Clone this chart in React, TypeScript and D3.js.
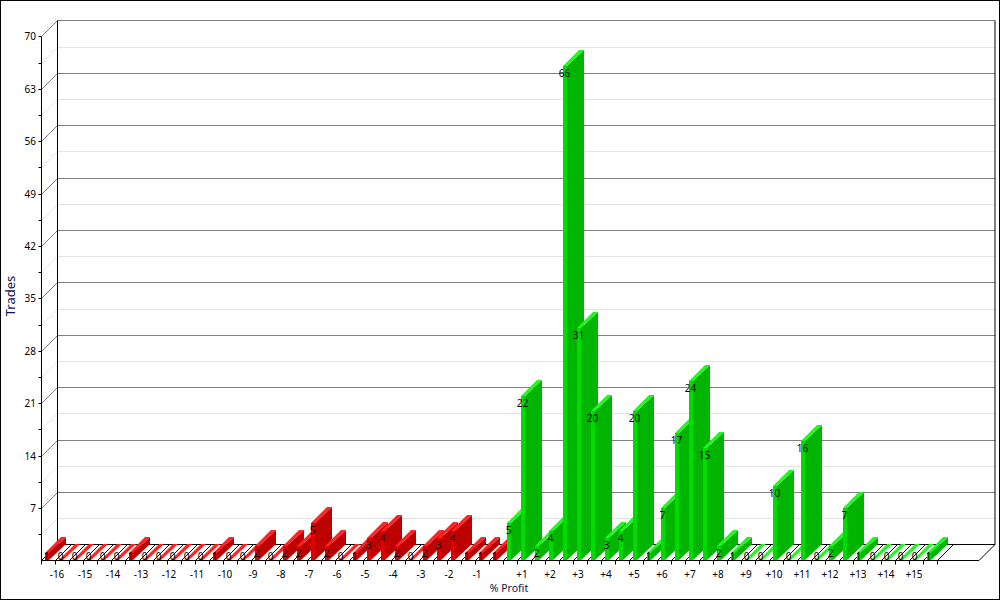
import React from 'react';
import * as d3 from 'd3';

const lossTrades = [1, 0, 0, 0, 0, 0, 1, 0, 0, 0, 0, 0, 1, 0, 0, 2, 0, 2, 2, 5, 2, 0, 1, 3, 4, 2, 0, 2, 3, 4, 1, 1, 1];
const gainTrades = [5, 22, 2, 4, 66, 31, 20, 3, 4, 20, 1, 7, 17, 24, 15, 2, 1, 0, 0, 10, 0, 16, 0, 2, 7, 1, 0, 0, 0, 0, 1];
const lossLabels = ['-16', '-15', '-14', '-13', '-12', '-11', '-10', '-9', '-8', '-7', '-6', '-5', '-4', '-3', '-2', '-1'];
const gainLabels = ['+1', '+2', '+3', '+4', '+5', '+6', '+7', '+8', '+9', '+10', '+11', '+12', '+13', '+14', '+15'];
const yTicks = [7, 14, 21, 28, 35, 42, 49, 56, 63, 70];
const yMinor = [3.5, 10.5, 17.5, 24.5, 31.5, 38.5, 45.5, 52.5, 59.5, 66.5];

const RED = { front: '#e00000', side: '#bd0000', top: '#ff2222' };
const GREEN = { front: '#00dc00', side: '#00b400', top: '#22f522' };

const FONT = '"Noto Sans", sans-serif';
const DEPTH = 16;
const BAR_W = 4;
const TOP_EXTRA = 1; // top and side faces run a pixel past the front face
const SLOTS = 64;
const RIGHT = 979;

const yScale = d3.scaleLinear().domain([0, 70]).range([560, 36]);
// the original snaps every value to a pixel row
const y = (v: number) => Math.ceil(yScale(v));
const row = (v: number) => y(v) + 0.5;
// tick positions along the floor, one slot per bar
const x = d3.scaleLinear().domain([0, SLOTS]).range([41.5, 937.5]);

const line = d3.line();
const poly = (pts: [number, number][]) => line(pts) + 'Z';

const bars = [
  ...lossTrades.map((v) => ({ v, c: RED })),
  ...gainTrades.map((v) => ({ v, c: GREEN })),
];

const Bar = ({ i, v, c }: { i: number; v: number; c: typeof RED }) => {
  const x0 = x(i) + 3.5;
  const x1 = x0 + BAR_W;
  const x2 = x1 + TOP_EXTRA;
  const top = y(v);
  const base = y(0);
  return (
    <g>
      {v > 0 && (
        <path
          d={poly([[x1, base], [x2 + DEPTH, base - DEPTH], [x2 + DEPTH, top - DEPTH], [x1, top]])}
          fill={c.side}
        />
      )}
      {v > 0 && <rect x={x0} y={top} width={BAR_W} height={base - top} fill={c.front} />}
      <path
        d={poly([[x0, top], [x1, top], [x2 + DEPTH, top - DEPTH], [x0 + DEPTH, top - DEPTH]])}
        fill={c.top}
      />
    </g>
  );
};

const App = () => {
  const base = row(0);
  const axisTicks = [...yTicks, ...yMinor];
  return (
    <svg
      width={1000}
      height={600}
      style={{ position: 'absolute', left: 0, top: 0, display: 'block', background: '#fff' }}
      fontFamily={FONT}
      fontSize={10}
    >
      {/* back wall + left wall grid */}
      {yMinor.map((t) => (
        <g key={t} stroke="#e4e4e4" fill="none">
          <path d={line([[x(0), row(t)], [x(0) + DEPTH, row(t) - DEPTH], [RIGHT + DEPTH, row(t) - DEPTH]]) as string} />
        </g>
      ))}
      {yTicks.map((t) => (
        <g key={t} stroke="#808080" fill="none">
          <path d={line([[x(0), row(t)], [x(0) + DEPTH, row(t) - DEPTH], [RIGHT + DEPTH, row(t) - DEPTH]]) as string} />
        </g>
      ))}

      {/* floor */}
      <g stroke="#000" fill="none">
        {d3.range(SLOTS + 1).map((i) => (
          <path key={i} d={line([[x(i), base], [x(i) + DEPTH, base - DEPTH]]) as string} />
        ))}
        <path d={line([[x(0) + DEPTH, base - DEPTH], [RIGHT + DEPTH, base - DEPTH]]) as string} />
        <path d={line([[RIGHT, base], [RIGHT + DEPTH, base - DEPTH], [RIGHT + DEPTH, row(70) - DEPTH]]) as string} />
        <path d={line([[x(0) + DEPTH, base - DEPTH], [x(0) + DEPTH, row(70) - DEPTH]]) as string} />
      </g>

      {bars.map((b, i) => (
        <Bar key={i} i={i} v={b.v} c={b.c} />
      ))}

      {/* front axes */}
      <g stroke="#000" fill="none">
        <path d={line([[x(0), row(70)], [x(0), base], [RIGHT, base]]) as string} />
        {axisTicks.map((t) => (
          <path key={t} d={line([[x(0) - 3, row(t)], [x(0), row(t)]]) as string} />
        ))}
        {d3.range(SLOTS + 1).map((i) => (
          <path key={i} d={line([[x(i), base], [x(i), base + 4]]) as string} />
        ))}
      </g>

      {/* value labels */}
      <g textAnchor="middle" fill="#000">
        {bars.map((b, i) => (
          <text key={i} x={x(i) + 5} y={Math.min(y(b.v) + 7, 556)} dy="0.35em">
            {b.v}
          </text>
        ))}
      </g>

      <g textAnchor="end" fill="#000">
        {yTicks.map((t) => (
          <text key={t} x={36} y={row(t)} dy="0.35em">
            {t}
          </text>
        ))}
      </g>

      <g textAnchor="middle" fill="#000">
        {lossLabels.map((l, i) => (
          <text key={l} x={x(2 * i + 1) + 1.5} y={574} dy="0.35em">
            {l}
          </text>
        ))}
        {gainLabels.map((l, i) => (
          <text key={l} x={x(34 + 2 * i) + 4.5} y={574} dy="0.35em">
            {l}
          </text>
        ))}
      </g>

      <text x={509} y={588} dy="0.35em" textAnchor="middle" fontSize={10.5} fill="#0a1450">
        % Profit
      </text>
      <text
        transform="translate(10,296) rotate(-90)"
        dy="0.35em"
        textAnchor="middle"
        fontSize={13}
        fill="#0a1450"
      >
        Trades
      </text>

      <rect x={0.5} y={0.5} width={999} height={599} fill="none" stroke="#000" />
    </svg>
  );
};

export default App;
